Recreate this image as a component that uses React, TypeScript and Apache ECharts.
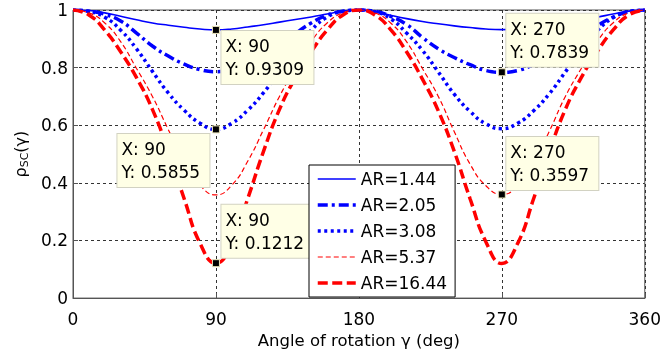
import React, { useEffect, useRef } from "react";
import * as echarts from "echarts";

const FONT = "DejaVu Sans";

const angles = [0, 10, 20, 30, 40, 50, 60, 70, 80, 90, 100, 110, 120, 130, 140, 150, 160, 170, 180,
  190, 200, 210, 220, 230, 240, 250, 260, 270, 280, 290, 300, 310, 320, 330, 340, 350, 360];

const ar144 = [1, 0.998, 0.99, 0.978, 0.966, 0.955, 0.947, 0.94, 0.934, 0.9309, 0.934, 0.941, 0.949, 0.958, 0.967, 0.976, 0.986, 0.996, 1,
  0.995, 0.982, 0.97, 0.96, 0.952, 0.945, 0.939, 0.934, 0.932, 0.934, 0.939, 0.946, 0.955, 0.965, 0.975, 0.986, 0.996, 1];
const ar205 = [1, 0.996, 0.985, 0.962, 0.92, 0.875, 0.84, 0.812, 0.793, 0.786, 0.793, 0.813, 0.842, 0.878, 0.918, 0.955, 0.982, 0.996, 1,
  0.996, 0.978, 0.95, 0.905, 0.865, 0.835, 0.81, 0.79, 0.7839, 0.79, 0.81, 0.835, 0.868, 0.905, 0.945, 0.975, 0.994, 1];
const ar308 = [1, 0.995, 0.975, 0.93, 0.865, 0.787, 0.712, 0.652, 0.607, 0.5855, 0.607, 0.652, 0.713, 0.787, 0.865, 0.93, 0.975, 0.995, 1,
  0.994, 0.97, 0.92, 0.86, 0.785, 0.708, 0.648, 0.605, 0.588, 0.607, 0.65, 0.71, 0.785, 0.862, 0.928, 0.973, 0.995, 1];
const ar537 = [1, 0.99, 0.955, 0.89, 0.797, 0.7, 0.585, 0.475, 0.392, 0.358, 0.392, 0.475, 0.585, 0.7, 0.797, 0.89, 0.955, 0.99, 1,
  0.99, 0.955, 0.89, 0.797, 0.7, 0.578, 0.465, 0.39, 0.3597, 0.39, 0.468, 0.58, 0.7, 0.797, 0.89, 0.955, 0.99, 1];
const ar1644 = [1, 0.983, 0.93, 0.855, 0.765, 0.655, 0.51, 0.345, 0.19, 0.1212, 0.19, 0.345, 0.51, 0.655, 0.765, 0.855, 0.93, 0.983, 1,
  0.983, 0.932, 0.855, 0.76, 0.65, 0.51, 0.345, 0.195, 0.12, 0.19, 0.345, 0.51, 0.655, 0.765, 0.855, 0.93, 0.983, 1];

const seriesNames = ["AR=1.44", "AR=2.05", "AR=3.08", "AR=5.37", "AR=16.44"];
const seriesValues = [ar144, ar205, ar308, ar537, ar1644];

const tipX = [90, 90, 90, 270, 270];
const tipY = [0.9309, 0.5855, 0.1212, 0.7839, 0.3597];

const xTicks = { min: 0, max: 360, interval: 90 };
const yTicks = { min: 0, max: 1, interval: 0.2 };

export default function App() {
  const ref = useRef<HTMLDivElement>(null);
  useEffect(() => {
    const chart = echarts.init(ref.current!, null, { renderer: "svg" });
    const styles = [
      { color: "#0000ff", width: 1.6, type: "solid" as any },
      { color: "#0000ff", width: 3.5, type: [10, 4, 3, 4] },
      { color: "#0000ff", width: 3.5, type: [3, 3.5] },
      { color: "#ff0000", width: 1.2, type: [5, 3] },
      { color: "#ff0000", width: 3.5, type: [10, 4.5] },
    ];
    const lineSeries = seriesNames.map((name, i) => ({
      type: "line",
      name,
      data: angles.map((a, j) => [a, seriesValues[i][j]]),
      showSymbol: false,
      symbol: "none",
      smooth: 0.5,
      color: styles[i].color,
      lineStyle: { color: styles[i].color, width: styles[i].width, type: styles[i].type },
      silent: true,
      z: 2,
    }));
    const boxW = 82;
    const tipLayout = [
      { position: [9.5, 5], align: "left", verticalAlign: "top" },
      { position: [-2.5 - boxW - 10, 8.5], align: "left", verticalAlign: "top" },
      { position: [9.5, -1.5], align: "left", verticalAlign: "bottom" },
      { position: [8.5, -1.5], align: "left", verticalAlign: "bottom" },
      { position: [8.5, -0.5], align: "left", verticalAlign: "bottom" },
    ];
    const tipSeries = {
      type: "scatter",
      name: "tips",
      symbol: "rect",
      symbolSize: 7,
      z: 5,
      silent: true,
      itemStyle: { color: "#000", borderColor: "#e9e2b8", borderWidth: 1, opacity: 1 },
      label: {
        show: true,
        formatter: (p: any) => `X: ${p.value[0]}\nY: ${p.value[1]}`,
        fontFamily: FONT,
        fontSize: 17,
        lineHeight: 23,
        width: boxW,
        color: "#000",
        backgroundColor: "#ffffe6",
        borderColor: "#d2d2c2",
        borderWidth: 1,
        padding: [4, 6, 3, 4],
        opacity: 1,
      },
      data: tipX.map((x, i) => ({
        value: [x, tipY[i]],
        label: tipLayout[i],
      })),
    };
    chart.setOption({
      animation: false,
      grid: {
        left: 73, right: 14, top: 10, bottom: 53,
        show: true, borderColor: "#555", borderWidth: 1, backgroundColor: "transparent",
      },
      legend: {
        data: seriesNames,
        orient: "vertical",
        left: 309,
        top: 165,
        itemWidth: 38,
        itemHeight: 12,
        itemGap: 8,
        itemTextGap: 6,
        padding: [5, 8, 5, 7],
        borderColor: "#000",
        borderWidth: 1,
        borderRadius: 0,
        backgroundColor: "#fff",
        selectedMode: false,
        itemStyle: { opacity: 0 },
        lineStyle: { width: "inherit", type: "inherit" },
        textStyle: { fontFamily: FONT, fontSize: 17, color: "#000", lineHeight: 18 },
        z: 10,
      },
      xAxis: {
        type: "value",
        ...xTicks,
        name: "Angle of rotation γ (deg)",
        nameLocation: "middle",
        nameGap: 30,
        nameTextStyle: { fontFamily: FONT, fontSize: 16.5, color: "#000" },
        axisLine: { show: true, lineStyle: { color: "#555", width: 1 } },
        axisTick: { show: true, inside: true, length: 5, lineStyle: { color: "#555" } },
        axisLabel: { fontFamily: FONT, fontSize: 17, color: "#000", margin: 12 },
        splitLine: { show: true, lineStyle: { color: "#333", width: 1, type: [3, 3] } },
      },
      yAxis: {
        type: "value",
        ...yTicks,
        name: "{r|ρ}{s|SC}{r|(γ)}",
        nameLocation: "middle",
        nameRotate: 90,
        nameGap: 38,
        nameTextStyle: {
          fontFamily: FONT, color: "#000",
          rich: {
            r: { fontFamily: FONT, fontSize: 16, color: "#000" },
            s: { fontFamily: FONT, fontSize: 11, color: "#000", padding: [9, 0, 0, 0] },
          },
        },
        axisLine: { show: true, lineStyle: { color: "#555", width: 1 } },
        axisTick: { show: true, inside: true, length: 5, lineStyle: { color: "#555" } },
        axisLabel: { fontFamily: FONT, fontSize: 17, color: "#000", margin: 5 },
        splitLine: { show: true, lineStyle: { color: "#333", width: 1, type: [3, 3] } },
      },
      series: [...lineSeries, tipSeries],
    });
    return () => chart.dispose();
  }, []);
  return <div ref={ref} style={{ position: "fixed", left: 0, top: 0, width: 664, height: 354 }} />;
}
